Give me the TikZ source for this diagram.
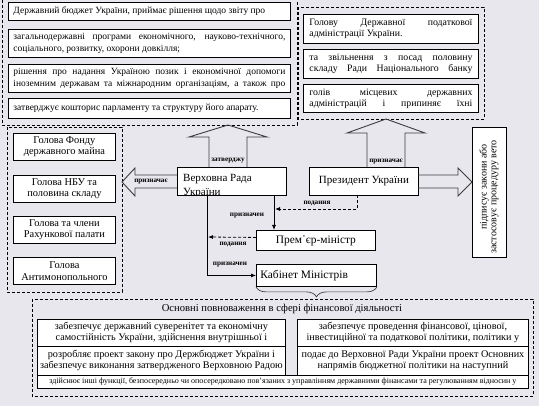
\documentclass[tikz,border=0pt]{standalone}
\usepackage{fontspec}
\setmainfont{Liberation Serif}
\usetikzlibrary{arrows.meta,decorations.pathreplacing,calc}
\definecolor{bgc}{RGB}{233,231,238}
\definecolor{arc}{RGB}{60,60,60}
\newcommand{\ftA}{\fontsize{9.5}{12}\selectfont}
\newcommand{\ftV}{\fontsize{10}{11}\selectfont}
\newcommand{\ftR}{\fontsize{9.8}{11}\selectfont}
\newcommand{\ftM}{\fontsize{10.4}{11.5}\selectfont}
\newcommand{\ftB}{\fontsize{11.4}{13}\selectfont}
\newcommand{\ftC}{\fontsize{11}{14.5}\selectfont}
\newcommand{\ftT}{\fontsize{10.2}{11}\selectfont}
\newcommand{\ftH}{\fontsize{10.6}{12}\selectfont}
\newcommand{\ftL}{\fontsize{7.2}{8}\selectfont\bfseries}
\newcommand{\ftS}{\fontsize{8}{9}\selectfont}
\newcommand{\jbx}[2]{\makebox[#1][s]{#2}}
\newcommand{\lbx}[2]{\makebox[#1][l]{#2}}
\begin{document}
\begin{tikzpicture}[x=1pt,y=-1pt,
  box/.style={draw=black,fill=white,line width=0.9pt,inner sep=0pt,anchor=north west},
  grp/.style={draw=black,line width=0.7pt,dash pattern=on 3pt off 2pt},
  blk/.style={draw=arc,line width=0.9pt,line join=miter},
  conn/.style={draw=black,line width=0.8pt,-{Latex[length=5pt,width=4pt]}},
  dconn/.style={conn,dash pattern=on 3pt off 2pt},
  lbl/.style={font=\ftL,inner sep=0pt}]
\useasboundingbox (0,0) rectangle (539,406);
\fill[bgc] (0,0) rectangle (539,406);

% ---- top left group
\draw[grp] (2,-5) rectangle (297,125);
\node[box,minimum width=282pt,minimum height=18pt,align=left,font=\ftA] (b1) at (8,2)
  {\lbx{272pt}{Державний бюджет України, приймає рішення щодо звіту про}};
\node[box,minimum width=282pt,minimum height=28pt,align=left,font=\ftA] (b2) at (8,29)
  {\jbx{272pt}{загальнодержавні  програми економічного, науково-технічного,}\\\lbx{272pt}{соціального, розвитку, охорони довкілля;}};
\node[box,minimum width=282pt,minimum height=28pt,align=left,font=\ftA] (b3) at (8,64)
  {\jbx{272pt}{рішення про надання Україною позик і економічної допомоги}\\\jbx{272pt}{іноземним державам та міжнародним організаціям, а також про}};
\node[box,minimum width=282pt,minimum height=20pt,align=left,font=\ftA] (b4) at (8,98)
  {\lbx{272pt}{затверджує кошторис парламенту та структуру його апарату.}};

% ---- top right group
\draw[grp] (298,7) rectangle (484,119);
\node[box,minimum width=175pt,minimum height=29pt,align=left,font=\ftR] (r1) at (303,14)
  {\jbx{163pt}{Голову Державної податкової}\\\lbx{163pt}{адміністрації України.}};
\node[box,minimum width=175pt,minimum height=29pt,align=left,font=\ftR] (r2) at (303,49)
  {\jbx{163pt}{та звільнення з посад  половину}\\\jbx{163pt}{складу Ради Національного банку}};
\node[box,minimum width=175pt,minimum height=28pt,align=left,font=\ftR] (r3) at (303,84)
  {\jbx{163pt}{голів місцевих державних}\\\jbx{163pt}{адміністрацій і припиняє їхні}};

% ---- ministers group
\draw[grp] (7,127) rectangle (122,292);
\node[box,minimum width=102pt,minimum height=27pt,align=center,font=\ftM] (m1) at (13,133)
  {Голова Фонду\\державного  майна};
\node[box,minimum width=102pt,minimum height=27pt,align=center,font=\ftM] (m2) at (13,175)
  {Голова НБУ та\\половина складу};
\node[box,minimum width=102pt,minimum height=27pt,align=center,font=\ftM] (m3) at (13,216)
  {Голова та члени\\Рахункової палати};
\node[box,minimum width=102pt,minimum height=27pt,align=center,font=\ftM] (m4) at (13,257)
  {Голова\\Антимонопольного};

% ---- central boxes
\node[box,minimum width=109pt,minimum height=28pt] (vr) at (177,167) {};
\begin{scope}
  \clip (vr.north west) rectangle (vr.south east);
  \node[anchor=north west,inner sep=0pt,align=left,font=\ftC] (vrt) at (183,174) {Верховна Рада\\України};
\end{scope}
\node[box,minimum width=109pt,minimum height=28pt,font=\ftC] (pr) at (309,167) {Президент України};
\node[box,minimum width=119pt,minimum height=20pt,font=\ftB] (pm) at (256,230) {Прем᾽єр-міністр};
\node[box,minimum width=120pt,minimum height=22pt,font=\ftB,align=left] (km) at (256,264) {\lbx{112pt}{Кабінет Міністрів}};
\node[box,minimum width=34pt,minimum height=130pt] (vt) at (472,127) {};
\node[rotate=90,font=\ftV,inner sep=0pt] (vt1) at (484,187) {підписує закони або};
\node[rotate=90,font=\ftV,inner sep=0pt] (vt2) at (495,197) {застосовує процедуру  вето};

% ---- block arrows
\draw[blk] (209,167) -- (209,137) -- (189,137) -- (228,125) -- (267,137) -- (247,137) -- (247,167);
\draw[blk] (367,167) -- (367,133) -- (347,133) -- (386,119) -- (425,133) -- (405,133) -- (405,167);
\draw[blk] (177,175) -- (135,175) -- (135,168) -- (122,182) -- (135,196) -- (135,188) -- (177,188);
\draw[blk] (418,175) -- (458,175) -- (458,168) -- (472,182) -- (458,196) -- (458,188) -- (418,188);
\node[lbl] (l1) at (228,161) {затверджу};
\node[lbl] (l2) at (386,162) {призначає};
\node[lbl] (l3) at (151,182) {призначає};

% ---- connectors
\coordinate (vra) at (207,195);
\coordinate (vrb) at (274,195);
\coordinate (pra) at (357,195);
\draw[conn] (vra) |- (km.west);
\draw[conn] (vrb) -- (vrb |- pm.north);
\draw[dconn] (pra) |- (275,209);
\draw[dconn] ([yshift=3pt]pm.west) -- (208,237);
\node[lbl] (l4) at (317,203) {подання};
\node[lbl] (l5) at (247,216) {призначен};
\node[lbl] (l6) at (233,244) {подання};
\node[lbl] (l7) at (230,265) {призначен};
\draw[draw=arc,line width=0.7pt,decorate,decoration={brace,amplitude=10pt,mirror}] (km.south west) -- (km.south east);

% ---- bottom group
\draw[grp] (32,299) rectangle (533,396);
\node[font=\ftH,inner sep=0pt] (tt) at (282,309) {Основні повноваження в сфері фінансової діяльності};
\node[box,minimum width=248pt,minimum height=27pt,align=center,font=\ftT] (c1) at (37,319)
  {забезпечує державний суверенітет та економічну\\самостійність України, здійснення внутрішньої і};
\node[box,minimum width=231pt,minimum height=27pt,align=center,font=\ftT] (c2) at (297,319)
  {забезпечує проведення фінансової, цінової,\\інвестиційної та податкової політики, політики у};
\node[box,minimum width=248pt,minimum height=29pt,align=center,font=\ftT] (c3) at (37,346)
  {розробляє проект закону про Держбюджет України і\\забезпечує виконання затвердженого Верховною Радою};
\node[box,minimum width=231pt,minimum height=29pt,align=center,font=\ftT] (c4) at (297,346)
  {подає до Верховної Ради України проект Основних\\напрямів бюджетної політики на наступний};
\node[box,minimum width=491pt,minimum height=13pt,font=\ftS] (c5) at (37,375)
  {здійснює інші функції, безпосередньо чи опосередковано пов'язаних з управлінням державними фінансами та регулюванням відносин у};
\end{tikzpicture}
\end{document}
